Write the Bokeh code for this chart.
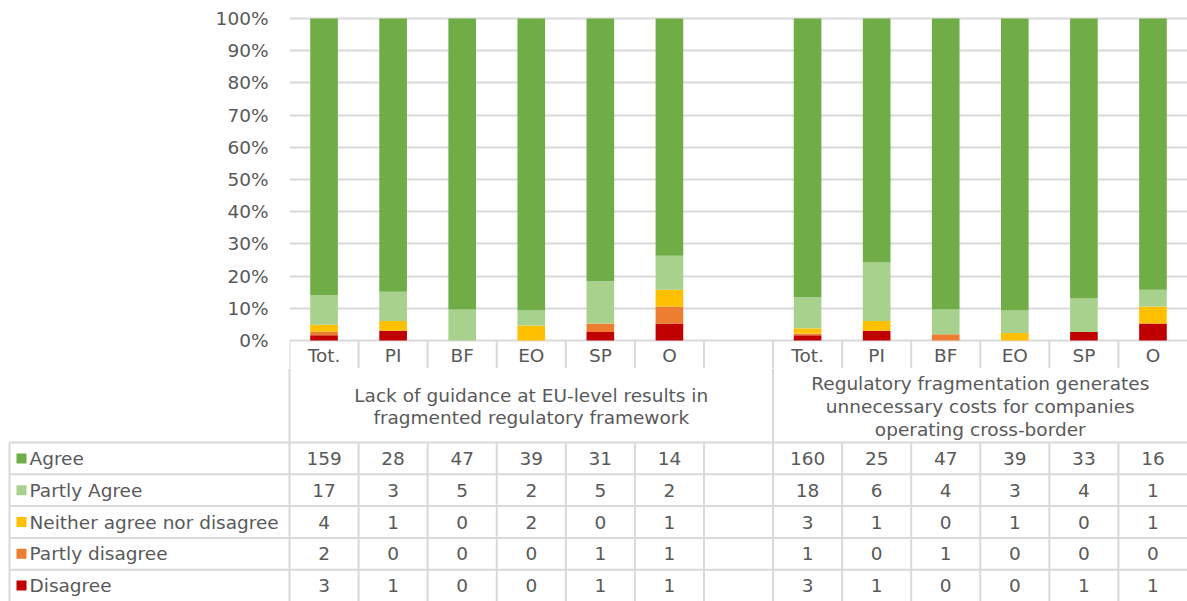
from bokeh.plotting import figure
from bokeh.models import Range1d, FixedTicker, NumeralTickFormatter, ColumnDataSource
from bokeh.core.properties import value
from bokeh.embed import file_html
from bokeh.resources import INLINE

# ---------------- data ----------------
categories = ["Tot.", "PI", "BF", "EO", "SP", "O"]
questions = [
    "Lack of guidance at EU-level results in\nfragmented regulatory framework",
    "Regulatory fragmentation generates\nunnecessary costs for companies\noperating cross-border",
]
series = ["Agree", "Partly Agree", "Neither agree nor disagree", "Partly disagree", "Disagree"]
series_colors = ["#70AD47", "#A9D18E", "#FFC000", "#ED7D31", "#C00000"]

q1_agree = [159, 28, 47, 39, 31, 14]
q1_partly_agree = [17, 3, 5, 2, 5, 2]
q1_neither = [4, 1, 0, 2, 0, 1]
q1_partly_disagree = [2, 0, 0, 0, 1, 1]
q1_disagree = [3, 1, 0, 0, 1, 1]

q2_agree = [160, 25, 47, 39, 33, 16]
q2_partly_agree = [18, 6, 4, 3, 4, 1]
q2_neither = [3, 1, 0, 1, 0, 1]
q2_partly_disagree = [1, 0, 1, 0, 0, 0]
q2_disagree = [3, 1, 0, 0, 1, 1]

y_ticks = [0, 0.1, 0.2, 0.3, 0.4, 0.5, 0.6, 0.7, 0.8, 0.9, 1.0]

# ---------------- layout constants ----------------
FONT = "DejaVu Sans"
FS = "18.5px"
TXT = "#595959"
GRID = "#d9d9d9"
W = 1187
H = 601
LEFT = 289          # left edge of the plotting area
TABLE_LEFT = 8      # left edge of the legend column
N_SLOTS = 13
slot_px = (W - LEFT) / N_SLOTS
PX_PER_UNIT = 322.0
ZERO_PX = 340
CAT_H = 28
TOP_H = ZERO_PX + CAT_H
BOT_H = H - TOP_H
HEAD_H = 74
ROW_H = (BOT_H - HEAD_H) / 5.0

q1_rows = [q1_agree, q1_partly_agree, q1_neither, q1_partly_disagree, q1_disagree]
q2_rows = [q2_agree, q2_partly_agree, q2_neither, q2_partly_disagree, q2_disagree]
keys = ["agree", "partly_agree", "neither", "partly_disagree", "disagree"]

# positions of the categories (slot 6 is an empty spacer)
x1 = list(range(len(categories)))
x2 = [len(categories) + 1 + i for i in range(len(categories))]

tot1 = [sum(r[i] for r in q1_rows) for i in range(len(categories))]
tot2 = [sum(r[i] for r in q2_rows) for i in range(len(categories))]
data = {"x": x1 + x2}
for k, r1, r2 in zip(keys, q1_rows, q2_rows):
    data[k] = [v / t for v, t in zip(r1, tot1)] + [v / t for v, t in zip(r2, tot2)]
src = ColumnDataSource(data)

# ---------------- top figure: bars ----------------
p1 = figure(
    width=W, height=TOP_H,
    x_range=Range1d(-0.5, N_SLOTS - 0.5),
    y_range=Range1d(-CAT_H / PX_PER_UNIT, ZERO_PX / PX_PER_UNIT),
    x_axis_location=None,
    output_backend="svg", toolbar_location=None,
    min_border_left=LEFT, min_border_right=0, min_border_top=0, min_border_bottom=0,
)
p1.outline_line_color = None
p1.background_fill_color = "white"
p1.border_fill_color = "white"
p1.xgrid.grid_line_color = None
p1.ygrid.ticker = FixedTicker(ticks=y_ticks)
p1.ygrid.grid_line_color = GRID
p1.ygrid.grid_line_width = 2
ax = p1.yaxis[0]
ax.ticker = FixedTicker(ticks=y_ticks)
ax.formatter = NumeralTickFormatter(format="0%")
ax.axis_line_color = None
ax.major_tick_line_color = None
ax.minor_tick_line_color = None
ax.major_label_text_font = FONT
ax.major_label_text_font_size = FS
ax.major_label_text_color = TXT
ax.major_label_standoff = 15

stack_keys = keys[::-1]
stack_colors = series_colors[::-1]
p1.vbar_stack(stack_keys, x="x", width=0.4, color=stack_colors, line_color=None, source=src)

bounds = [-0.5 + k for k in range(N_SLOTS)]
cat_bottom = -CAT_H / PX_PER_UNIT
p1.segment(x0=bounds, y0=[0] * len(bounds), x1=bounds, y1=[cat_bottom] * len(bounds),
           line_color=GRID, line_width=2)
p1.text(x=x1 + x2, y=[-15 / PX_PER_UNIT] * (2 * len(categories)), text=categories + categories,
        text_align="center", text_baseline="middle", text_font=value(FONT),
        text_font_size=FS, text_color=TXT)

# ---------------- bottom figure: data table ----------------
L = -0.5 - LEFT / slot_px
p2 = figure(
    width=W, height=BOT_H,
    x_range=Range1d(L, N_SLOTS - 0.5), y_range=Range1d(BOT_H, 0),
    x_axis_location=None, y_axis_location=None,
    output_backend="svg", toolbar_location=None, min_border=0,
)
p2.outline_line_color = None
p2.grid.grid_line_color = None
p2.background_fill_color = "white"
p2.border_fill_color = "white"

vx0, vy0, vx1, vy1 = [], [], [], []
for xb in (-0.5, 6.5):
    vx0.append(xb); vy0.append(0); vx1.append(xb); vy1.append(BOT_H)
for k in range(1, N_SLOTS):
    xb = -0.5 + k
    if xb == 6.5:
        continue
    vx0.append(xb); vy0.append(HEAD_H); vx1.append(xb); vy1.append(BOT_H)
lb = L + (TABLE_LEFT + 1) / slot_px
vx0.append(lb); vy0.append(HEAD_H); vx1.append(lb); vy1.append(BOT_H)
for r in range(5):
    yb = HEAD_H + r * ROW_H
    vx0.append(lb); vy0.append(yb); vx1.append(N_SLOTS - 0.5); vy1.append(yb)
p2.segment(x0=vx0, y0=vy0, x1=vx1, y1=vy1, line_color=GRID, line_width=2)

p2.text(x=[3.0, 9.5], y=[HEAD_H / 2 + 1, HEAD_H / 2 + 1], text=questions,
        text_align="center", text_baseline="middle", text_font=value(FONT),
        text_font_size=FS, text_color=TXT, text_line_height=1.08)

tx, ty, tt = [], [], []
for r, (r1, r2) in enumerate(zip(q1_rows, q2_rows)):
    yc = HEAD_H + (r + 0.5) * ROW_H
    for xi, v in zip(x1, r1):
        tx.append(xi); ty.append(yc); tt.append(str(v))
    for xi, v in zip(x2, r2):
        tx.append(xi); ty.append(yc); tt.append(str(v))
p2.text(x=tx, y=ty, text=tt, text_align="center", text_baseline="middle",
        text_font=value(FONT), text_font_size=FS, text_color=TXT)

row_c = [HEAD_H + (r + 0.5) * ROW_H for r in range(5)]
p2.scatter(x=[L + (TABLE_LEFT + 13) / slot_px] * 5, y=row_c, marker="square", size=10,
           color=series_colors, line_color=None)
p2.text(x=[L + (TABLE_LEFT + 21) / slot_px] * 5, y=row_c, text=series, text_align="left",
        text_baseline="middle", text_font=value(FONT), text_font_size=FS, text_color=TXT)

open("out.html", "w").write(file_html([p1, p2], INLINE))
